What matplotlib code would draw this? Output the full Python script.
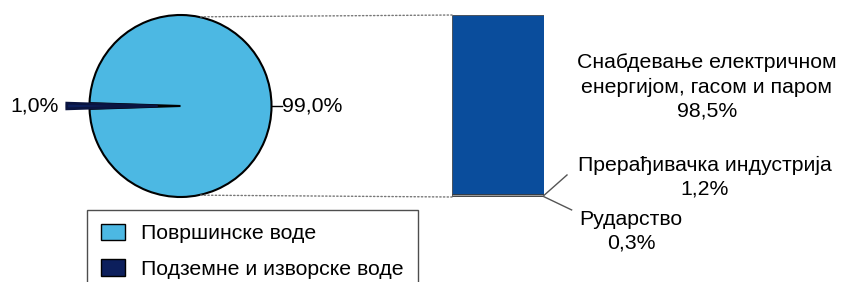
#! /usr/bin/env python3
# Water abstraction: pie of sources + stacked bar of users.
import matplotlib
matplotlib.use('Agg')
import matplotlib.pyplot as plt
from matplotlib.patches import ConnectionPatch

# Data.
source_labels = ['Површинске воде', 'Подземне и изворске воде']
source_values = [99.0, 1.0]
source_texts = ['99,0%', '1,0%']

use_labels = ['Рударство', 'Прерађивачка индустрија',
              'Снабдевање електричном\nенергијом, гасом и паром']
use_values = [0.3, 1.2, 98.5]
use_texts = ['0,3%', '1,2%', '98,5%']

plt.rcParams['font.family'] = ['Liberation Sans', 'DejaVu Sans']
fs = 15.3

W, H = 841, 282
fig = plt.figure(figsize=(W/100, H/100), dpi=100)

#-----------------------------------------------------------------------
# Pie.
cx, cy, r = 180.5, 106, 91
ax = fig.add_axes([(cx - r)/W, 1 - (cy + r)/H, 2*r/W, 2*r/H])
wedges, _ = ax.pie(source_values, colors=['#4cb8e3', '#0c1f5c'],
                   startangle=180 + 1.8*source_values[1],
                   explode=[0, 0.25], radius=1,
                   wedgeprops=dict(edgecolor='black', linewidth=1.5))
wedges[1].set_edgecolor('#0a1440')
wedges[1].set_linewidth(2.0)
ax.set_xlim(-1, 1)
ax.set_ylim(-1, 1)
ax.set_aspect('auto')
ax.axis('off')
ax.plot([1.0, 1.11], [0, 0], color='black', lw=1, clip_on=False)
ax.text(1.115, 0, source_texts[0], ha='left', va='center', fontsize=fs)
ax.text(-1.34, 0, source_texts[1], ha='right', va='center', fontsize=fs)

#-----------------------------------------------------------------------
# Stacked bar.
bx0, bx1, by0, by1 = 452, 544, 15, 197
bx = fig.add_axes([bx0/W, 1 - by1/H, (bx1 - bx0)/W, (by1 - by0)/H])
bar_colors = ['#d0d0d0', '#9a9a9a', '#0a4d9c']
bottom = 0
mids = []
for v, c in zip(use_values, bar_colors):
    bx.bar(0, v, bottom=bottom, width=1, color=c,
           edgecolor='#333333', linewidth=0.5)
    mids.append(bottom + v/2)
    bottom += v
bx.set_xlim(-0.5, 0.5)
bx.set_ylim(0, 100)
bx.axis('off')

# Labels.
bx.text(2.77, 0.604, use_labels[2] + '\n' + use_texts[2], transform=bx.transAxes,
        ha='center', va='center', multialignment='center', fontsize=fs,
        linespacing=1.35)
bx.text(2.745, 0.11, use_labels[1] + '\n' + use_texts[1], transform=bx.transAxes,
        ha='center', va='center', multialignment='center', fontsize=fs,
        linespacing=1.3)
bx.text(1.946, -0.19, use_labels[0] + '\n' + use_texts[0], transform=bx.transAxes,
        ha='center', va='center', multialignment='center', fontsize=fs,
        linespacing=1.3)
bx.plot([0.5, 0.75], [mids[1], 12.1], color='#555555', lw=1, clip_on=False)
bx.plot([0.5, 0.8], [mids[0], -7.1], color='#555555', lw=1, clip_on=False)

# Dotted connectors.
for py, by in [(0.98, 100), (-0.98, 0)]:
    con = ConnectionPatch(xyA=(0.22, py), coordsA=ax.transData,
                          xyB=(-0.5, by), coordsB=bx.transData,
                          linestyle=':', color='#777777', lw=1)
    fig.add_artist(con)

#-----------------------------------------------------------------------
# Legend.
leg = fig.legend(wedges, source_labels, loc='upper left',
                 bbox_to_anchor=(87/W, 1 - 210/H), fontsize=fs,
                 frameon=True, fancybox=False, edgecolor='#222222',
                 handlelength=1.15, handleheight=0.8, handletextpad=0.75,
                 labelspacing=0.75, borderpad=0.65, borderaxespad=0)
leg.get_frame().set_linewidth(1.0)
for h in leg.legend_handles:
    h.set_linewidth(1.0)
    h.set_edgecolor('black')

fig.savefig('out.png', dpi=100)
